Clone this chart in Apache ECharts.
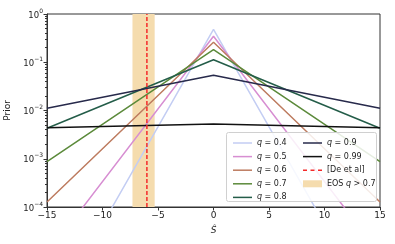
<!DOCTYPE html>
<html>
<head>
<meta charset="utf-8">
<script src="https://cdn.jsdelivr.net/npm/echarts@6/dist/echarts.min.js"></script>
<style>html,body{margin:0;padding:0;background:#fff}#c{width:395px;height:244px}</style>
</head>
<body>
<div id="c"></div>
<script>
// Data
const xs = [-15, 0, 15];
const q04 = [4.2e-7, 0.48, 4.2e-7];
const q05 = [1.05e-5, 0.345, 1.05e-5];
const q06 = [1.27e-4, 0.259, 1.27e-4];
const q07 = [8.7e-4, 0.182, 8.7e-4];
const q08 = [4.3e-3, 0.113, 4.3e-3];
const q09 = [0.0111, 0.0536, 0.0111];
const q099 = [4.4e-3, 5.25e-3, 4.4e-3];
const seriesNames = ['q = 0.4','q = 0.5','q = 0.6','q = 0.7','q = 0.8','q = 0.9','q = 0.99'];
const seriesValues = [q04, q05, q06, q07, q08, q09, q099];
const seriesColors = ['#c3cdf3','#d78ed2','#bd7b5f','#5b8a3a','#245d49','#272a4b','#111111'];
const deX = -6;
const deY = [1e-4, 1];
const eosRange = [-7.3, -5.3];
const yTickLabels = {'1': '0', '0.1': '−1', '0.01': '−2', '0.001': '−3', '0.0001': '−4'};

const font = 'DejaVu Sans';
const FS = 8;
const chart = echarts.init(document.getElementById('c'), null, {renderer: 'canvas'});

const LINE_ICON = 'path://M0,0H19V1.5H0Z';
const DASH_ICON = 'path://M0,0H4V1.5H0Z M7.5,0H11.5V1.5H7.5Z M15,0H19V1.5H15Z';
const RECT_ICON = 'path://M0,0H19V7H0Z';

const series = [];
series.push({
  name: 'EOS q > 0.7', type: 'line', data: [], symbol: 'none',
  itemStyle: {color: '#f5dcae'}, lineStyle: {color: '#f5dcae'},
  markArea: {silent: true, itemStyle: {color: '#f5dcae', opacity: 1},
    data: [[{xAxis: eosRange[0]}, {xAxis: eosRange[1]}]]},
  z: 1
});
seriesValues.forEach((vals, i) => {
  series.push({
    name: seriesNames[i], type: 'line', symbol: 'none',
    data: xs.map((x, j) => [x, vals[j]]),
    lineStyle: {color: seriesColors[i], width: 1.5},
    itemStyle: {color: seriesColors[i]},
    z: 2
  });
});
series.push({
  name: '[De et al]', type: 'line', symbol: 'none',
  data: deY.map(y => [deX, y]),
  lineStyle: {color: '#f42a2a', width: 1.5, type: [4, 2]},
  itemStyle: {color: '#f42a2a'},
  z: 3
});

const rich = {i: {fontStyle: 'italic', fontFamily: font, fontSize: FS, color: '#222'}};
const fmt = n => n.replace(/q/, '{i|q}');
const legendCommon = {
  orient: 'vertical', itemWidth: 19, itemHeight: 10, itemGap: 3.6,
  symbolKeepAspect: true,
  textStyle: {fontFamily: font, fontSize: FS, color: '#222', rich: rich, lineHeight: 10},
  formatter: fmt, selectedMode: false, z: 10
};

chart.setOption({
  animation: false,
  backgroundColor: '#fff',
  grid: {left: 47, right: 15, top: 14, bottom: 37, show: true, borderColor: '#333', borderWidth: 1,
    containLabel: false, outerBoundsMode: 'none'},
  graphic: [{type: 'rect', shape: {x: 226.5, y: 132.5, width: 150, height: 69, r: 2},
    style: {fill: 'rgba(255,255,255,0.85)', stroke: '#d0d0d0', lineWidth: 1}, z: 5}],
  legend: [
    Object.assign({left: 228, top: 133,
      data: seriesNames.slice(0, 5).map(n => ({name: n, icon: LINE_ICON}))}, legendCommon),
    Object.assign({left: 298, top: 133,
      data: [{name: seriesNames[5], icon: LINE_ICON}, {name: seriesNames[6], icon: LINE_ICON},
             {name: '[De et al]', icon: DASH_ICON}, {name: 'EOS q > 0.7', icon: RECT_ICON}]}, legendCommon)
  ],
  xAxis: {
    type: 'value', min: -15, max: 15, interval: 5,
    name: 'Ŝ', nameLocation: 'middle', nameGap: 19,
    nameTextStyle: {fontFamily: font, fontSize: 9, fontStyle: 'italic', color: '#222'},
    axisLine: {show: true, onZero: false, lineStyle: {color: '#333', width: 1}},
    axisTick: {show: true, inside: false, length: 3.5, lineStyle: {color: '#333'}},
    axisLabel: {fontFamily: font, fontSize: 9, color: '#222', margin: 4,
      formatter: v => (v < 0 ? '−' + Math.abs(v) : String(v))},
    splitLine: {show: false}
  },
  yAxis: {
    type: 'log', logBase: 10, min: 1e-4, max: 1,
    name: 'Prior', nameLocation: 'middle', nameGap: 31,
    nameTextStyle: {fontFamily: font, fontSize: 9, color: '#222'},
    axisLine: {show: true, onZero: false, lineStyle: {color: '#333', width: 1}},
    axisTick: {show: true, inside: false, length: 3.5, lineStyle: {color: '#333'}},
    minorTick: {show: true, splitNumber: 9, length: 2, lineStyle: {color: '#333'}},
    axisLabel: {fontFamily: font, fontSize: 8.5, color: '#222', margin: 4,
      formatter: v => {
        const key = String(+v.toPrecision(3));
        const e = yTickLabels[key] !== undefined ? yTickLabels[key] : String(Math.round(Math.log10(v)));
        return '{b|10}{s|' + e + '}';
      },
      rich: {
        b: {fontFamily: font, fontSize: 8.5, color: '#222', verticalAlign: 'bottom', lineHeight: 12},
        s: {fontFamily: font, fontSize: 6, color: '#222', verticalAlign: 'top', lineHeight: 12}
      }
    },
    splitLine: {show: false}
  },
  series: series
});
</script>
</body>
</html>
